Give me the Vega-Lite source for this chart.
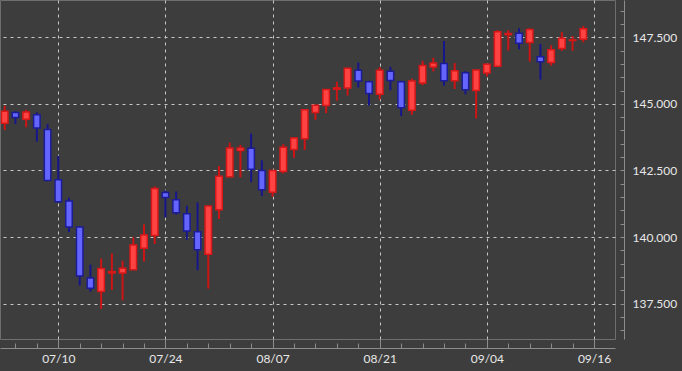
{
  "$schema": "https://vega.github.io/schema/vega-lite/v6.json",
  "width": 615,
  "height": 339,
  "autosize": {"type": "none"},
  "padding": {"left": 0, "top": 0, "right": 67, "bottom": 32},
  "background": "#3d3d3d",
  "config": {
    "view": {"stroke": "#6e6e6e", "strokeWidth": 1, "fill": "#3d3d3d"},
    "axis": {"labelFont": "Lato", "labelFontSize": 12, "labelColor": "#e8e8e8", "domainColor": "#8c8c8c", "tickColor": "#8c8c8c", "gridColor": "#c8c8c8", "gridDash": [3, 4], "gridWidth": 1, "title": null}
  },
  "data": {"values": [
    {"date":"07/03","i":-5,"open":144.27,"high":144.93,"low":144.02,"close":144.72},
    {"date":"07/04","i":-4,"open":144.68,"high":144.72,"low":144.24,"close":144.49},
    {"date":"07/05","i":-3,"open":144.42,"high":144.78,"low":144.12,"close":144.69},
    {"date":"07/06","i":-2,"open":144.59,"high":144.68,"low":143.58,"close":144.09},
    {"date":"07/07","i":-1,"open":144.04,"high":144.24,"low":142.10,"close":142.12},
    {"date":"07/10","i":0,"open":142.15,"high":143.05,"low":141.29,"close":141.32},
    {"date":"07/11","i":1,"open":141.35,"high":141.47,"low":140.19,"close":140.38},
    {"date":"07/12","i":2,"open":140.38,"high":140.40,"low":138.18,"close":138.54},
    {"date":"07/13","i":3,"open":138.46,"high":138.96,"low":137.95,"close":138.08},
    {"date":"07/14","i":4,"open":137.95,"high":139.19,"low":137.30,"close":138.82},
    {"date":"07/17","i":5,"open":138.65,"high":139.38,"low":138.01,"close":138.70},
    {"date":"07/18","i":6,"open":138.65,"high":139.11,"low":137.62,"close":138.83},
    {"date":"07/19","i":7,"open":138.77,"high":139.99,"low":138.76,"close":139.70},
    {"date":"07/20","i":8,"open":139.58,"high":140.47,"low":139.08,"close":140.08},
    {"date":"07/21","i":9,"open":140.06,"high":141.90,"low":139.74,"close":141.82},
    {"date":"07/24","i":10,"open":141.67,"high":141.75,"low":140.74,"close":141.48},
    {"date":"07/25","i":11,"open":141.40,"high":141.71,"low":140.84,"close":140.91},
    {"date":"07/26","i":12,"open":140.87,"high":141.17,"low":139.90,"close":140.23},
    {"date":"07/27","i":13,"open":140.20,"high":141.30,"low":138.75,"close":139.52},
    {"date":"07/28","i":14,"open":139.35,"high":141.18,"low":138.06,"close":141.16},
    {"date":"07/31","i":15,"open":141.02,"high":142.67,"low":140.68,"close":142.28},
    {"date":"08/01","i":16,"open":142.26,"high":143.54,"low":142.24,"close":143.34},
    {"date":"08/02","i":17,"open":143.25,"high":143.46,"low":142.24,"close":143.34},
    {"date":"08/03","i":18,"open":143.33,"high":143.88,"low":142.06,"close":142.54},
    {"date":"08/04","i":19,"open":142.50,"high":142.88,"low":141.54,"close":141.77},
    {"date":"08/07","i":20,"open":141.68,"high":142.52,"low":141.51,"close":142.50},
    {"date":"08/08","i":21,"open":142.46,"high":143.49,"low":142.39,"close":143.37},
    {"date":"08/09","i":22,"open":143.29,"high":143.74,"low":142.98,"close":143.72},
    {"date":"08/10","i":23,"open":143.69,"high":144.80,"low":143.27,"close":144.78},
    {"date":"08/11","i":24,"open":144.68,"high":144.97,"low":144.40,"close":144.95},
    {"date":"08/14","i":25,"open":144.94,"high":145.56,"low":144.65,"close":145.54},
    {"date":"08/15","i":26,"open":145.55,"high":145.83,"low":145.12,"close":145.60},
    {"date":"08/16","i":27,"open":145.60,"high":146.36,"low":145.31,"close":146.34},
    {"date":"08/17","i":28,"open":146.26,"high":146.55,"low":145.61,"close":145.86},
    {"date":"08/18","i":29,"open":145.83,"high":145.87,"low":144.94,"close":145.39},
    {"date":"08/21","i":30,"open":145.36,"high":146.38,"low":145.16,"close":146.26},
    {"date":"08/22","i":31,"open":146.22,"high":146.39,"low":145.51,"close":145.88},
    {"date":"08/23","i":32,"open":145.83,"high":145.87,"low":144.54,"close":144.85},
    {"date":"08/24","i":33,"open":144.76,"high":145.95,"low":144.59,"close":145.86},
    {"date":"08/25","i":34,"open":145.78,"high":146.62,"low":145.70,"close":146.44},
    {"date":"08/28","i":35,"open":146.38,"high":146.73,"low":146.22,"close":146.53},
    {"date":"08/29","i":36,"open":146.52,"high":147.36,"low":145.68,"close":145.87},
    {"date":"08/30","i":37,"open":145.87,"high":146.53,"low":145.56,"close":146.24},
    {"date":"08/31","i":38,"open":146.17,"high":146.23,"low":145.36,"close":145.53},
    {"date":"09/01","i":39,"open":145.50,"high":146.29,"low":144.45,"close":146.27},
    {"date":"09/04","i":40,"open":146.16,"high":146.51,"low":146.03,"close":146.49},
    {"date":"09/05","i":41,"open":146.41,"high":147.77,"low":146.40,"close":147.71},
    {"date":"09/06","i":42,"open":147.60,"high":147.77,"low":147.00,"close":147.64},
    {"date":"09/07","i":43,"open":147.65,"high":147.84,"low":147.05,"close":147.28},
    {"date":"09/08","i":44,"open":147.30,"high":147.84,"low":146.59,"close":147.79},
    {"date":"09/11","i":45,"open":146.77,"high":147.25,"low":145.91,"close":146.58},
    {"date":"09/12","i":46,"open":146.55,"high":147.20,"low":146.44,"close":147.03},
    {"date":"09/13","i":47,"open":147.08,"high":147.69,"low":146.99,"close":147.46},
    {"date":"09/14","i":48,"open":147.38,"high":147.55,"low":146.99,"close":147.40},
    {"date":"09/15","i":49,"open":147.43,"high":147.92,"low":147.31,"close":147.82}
  ]},
  "encoding": {
    "x": {
      "field": "i", "type": "quantitative",
      "scale": {"domain": [-5.44, 51.96], "nice": false, "zero": false, "padding": 0},
      "axis": {
        "orient": "bottom", "offset": 9,
        "values": [-4,-2,0,2,4,6,8,10,12,14,16,18,20,22,24,26,28,30,32,34,36,38,40,42,44,46,48,50],
        "labelExpr": "datum.value % 10 === 0 ? ['07/10','07/24','08/07','08/21','09/04','09/16'][datum.value / 10] : ''",
        "tickSize": {"condition": {"test": "datum.value % 10 === 0", "value": -9}, "value": -5},
        "gridOpacity": {"condition": {"test": "datum.value % 10 === 0", "value": 1}, "value": 0},
        "labelPadding": 14,
        "labelFlush": false,
        "labelOverlap": false,
        "grid": true
      }
    },
    "y": {
      "field": "low", "type": "quantitative",
      "scale": {"domain": [136.17, 148.9], "nice": false, "zero": false, "padding": 0},
      "axis": {
        "orient": "right", "offset": 9,
        "values": [136.5,137,137.5,138,138.5,139,139.5,140,140.5,141,141.5,142,142.5,143,143.5,144,144.5,145,145.5,146,146.5,147,147.5,148,148.5],
        "labelExpr": "datum.value % 2.5 === 0 ? format(datum.value, '.3f') : ''",
        "tickSize": -4,
        "gridOpacity": {"condition": {"test": "datum.value % 2.5 === 0", "value": 1}, "value": 0},
        "labelPadding": 12,
        "labelOverlap": false,
        "labelFlush": false,
        "grid": true
      }
    }
  },
  "layer": [
    {
      "mark": {"type": "rule", "strokeWidth": 2},
      "encoding": {
        "y2": {"field": "high"},
        "color": {"condition": {"test": "datum.close >= datum.open", "value": "#cc1414"}, "value": "#16168c"}
      }
    },
    {
      "mark": {"type": "bar", "size": 6.5, "strokeWidth": 1.5},
      "encoding": {
        "y": {"field": "open", "type": "quantitative"},
        "y2": {"field": "close"},
        "fill": {"condition": {"test": "datum.close >= datum.open", "value": "#ff4242"}, "value": "#6464ff"},
        "stroke": {"condition": {"test": "datum.close >= datum.open", "value": "#d81818"}, "value": "#1c1c96"}
      }
    }
  ]
}
